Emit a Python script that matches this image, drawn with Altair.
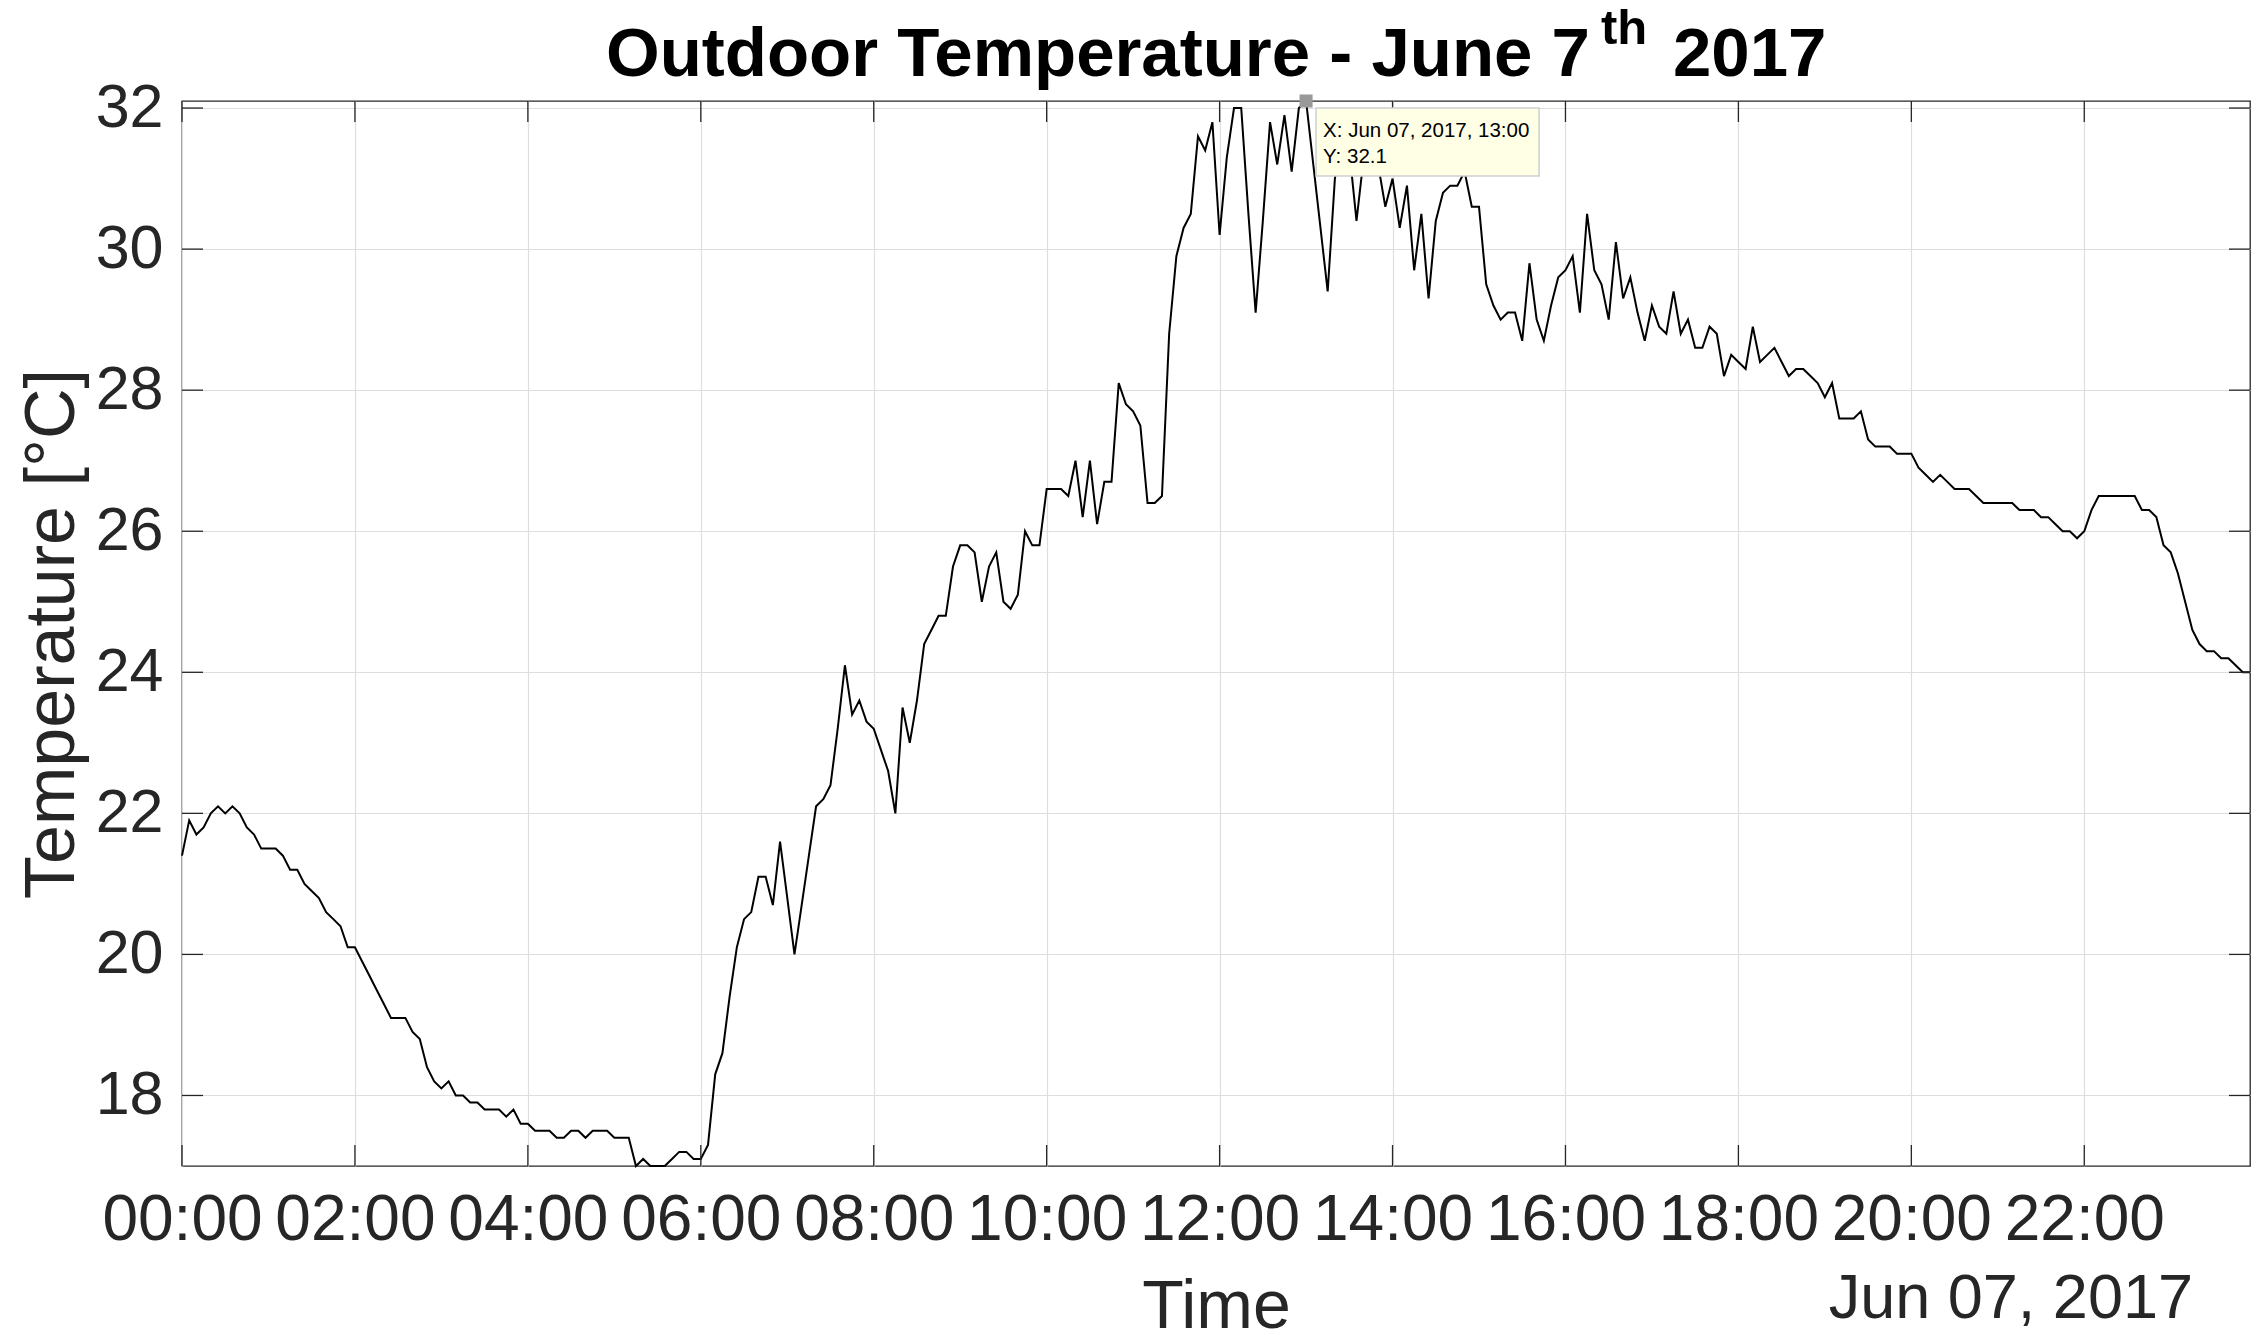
import altair as alt
import pandas as pd

# ---- data (5-minute readings, 00:00 .. 23:55) ----
temps = [
    21.4, 21.9, 21.7, 21.8, 22.0, 22.1, 22.0, 22.1, 22.0, 21.8,
    21.7, 21.5, 21.5, 21.5, 21.4, 21.2, 21.2, 21.0, 20.9, 20.8,
    20.6, 20.5, 20.4, 20.1, 20.1, 19.9, 19.7, 19.5, 19.3, 19.1,
    19.1, 19.1, 18.9, 18.8, 18.4, 18.2, 18.1, 18.2, 18.0, 18.0,
    17.9, 17.9, 17.8, 17.8, 17.8, 17.7, 17.8, 17.6, 17.6, 17.5,
    17.5, 17.5, 17.4, 17.4, 17.5, 17.5, 17.4, 17.5, 17.5, 17.5,
    17.4, 17.4, 17.4, 17.0, 17.1, 17.0, 17.0, 17.0, 17.1, 17.2,
    17.2, 17.1, 17.1, 17.3, 18.3, 18.6, 19.4, 20.1, 20.5, 20.6,
    21.1, 21.1, 20.7, 21.6, 20.8, 20.0, 20.7, 21.4, 22.1, 22.2,
    22.4, 23.2, 24.1, 23.4, 23.6, 23.3, 23.2, 22.9, 22.6, 22.0,
    23.5, 23.0, 23.6, 24.4, 24.6, 24.8, 24.8, 25.5, 25.8, 25.8,
    25.7, 25.0, 25.5, 25.7, 25.0, 24.9, 25.1, 26.0, 25.8, 25.8,
    26.6, 26.6, 26.6, 26.5, 27.0, 26.2, 27.0, 26.1, 26.7, 26.7,
    28.1, 27.8, 27.7, 27.5, 26.4, 26.4, 26.5, 28.8, 29.9, 30.3,
    30.5, 31.6, 31.4, 31.8, 30.2, 31.3, 32.0, 32.0, 30.5, 29.1,
    30.4, 31.8, 31.2, 31.9, 31.1, 32.0, 32.1, 31.2, 30.3, 29.4,
    31.0, 31.6, 31.4, 30.4, 31.3, 31.5, 31.2, 30.6, 31.0, 30.3,
    30.9, 29.7, 30.5, 29.3, 30.4, 30.8, 30.9, 30.9, 31.1, 30.6,
    30.6, 29.5, 29.2, 29.0, 29.1, 29.1, 28.7, 29.8, 29.0, 28.7,
    29.2, 29.6, 29.7, 29.9, 29.1, 30.5, 29.7, 29.5, 29.0, 30.1,
    29.3, 29.6, 29.1, 28.7, 29.2, 28.9, 28.8, 29.4, 28.8, 29.0,
    28.6, 28.6, 28.9, 28.8, 28.2, 28.5, 28.4, 28.3, 28.9, 28.4,
    28.5, 28.6, 28.4, 28.2, 28.3, 28.3, 28.2, 28.1, 27.9, 28.1,
    27.6, 27.6, 27.6, 27.7, 27.3, 27.2, 27.2, 27.2, 27.1, 27.1,
    27.1, 26.9, 26.8, 26.7, 26.8, 26.7, 26.6, 26.6, 26.6, 26.5,
    26.4, 26.4, 26.4, 26.4, 26.4, 26.3, 26.3, 26.3, 26.2, 26.2,
    26.1, 26.0, 26.0, 25.9, 26.0, 26.3, 26.5, 26.5, 26.5, 26.5,
    26.5, 26.5, 26.3, 26.3, 26.2, 25.8, 25.7, 25.4, 25.0, 24.6,
    24.4, 24.3, 24.3, 24.2, 24.2, 24.1, 24.0, 24.0,
]
times = pd.date_range("2017-06-07 00:00", periods=len(temps), freq="5min").strftime("%Y-%m-%dT%H:%M:%S")

x_tick_labels = ["00:00", "02:00", "04:00", "06:00", "08:00", "10:00",
                 "12:00", "14:00", "16:00", "18:00", "20:00", "22:00"]
y_tick_values = [18, 20, 22, 24, 26, 28, 30, 32]
y_domain = [17, 32.1]

title_main = "Outdoor Temperature - June 7"
title_sup = "th"
title_year = "2017"
x_title = "Time"
y_title = "Temperature [°C]"
date_label = "Jun 07, 2017"

tip_time = "2017-06-07T13:00:00"
tip_temp = 32.1
tip_line1 = "X: Jun 07, 2017, 13:00"
tip_line2 = "Y: 32.1"

# ---- layout ----
W, H = 2068, 1065
FONT = "Liberation Sans"
AX = "#262626"
TICK = 21

df = pd.DataFrame({"time": list(times), "temp": temps})
xt_df = pd.DataFrame({"time": ["2017-06-07T" + t + ":00" for t in x_tick_labels]})
yt_df = pd.DataFrame({"temp": y_tick_values})
tip_df = pd.DataFrame({"time": [tip_time], "temp": [tip_temp]})


def dt(h, m=0):
    return alt.DateTime(year=2017, month=6, date=7, hours=h, minutes=m)


x_enc = alt.X(
    "time:T",
    scale=alt.Scale(domain=[dt(0), dt(23, 55)]),
    axis=alt.Axis(
        values=[dt(int(t[:2])) for t in x_tick_labels],
        format="%H:%M",
        labelFlush=False,
        labelOverlap=False,
        labelPadding=22,
        labelFontSize=64,
        titleFontSize=68,
        titleX=W / 2,
        titleY=161,
        titleBaseline="alphabetic",
        titleAlign="center",
    ),
    title=x_title,
)
y_enc = alt.Y(
    "temp:Q",
    scale=alt.Scale(domain=y_domain, nice=False, zero=False),
    axis=alt.Axis(
        values=y_tick_values,
        labelFlush=False,
        labelOverlap=False,
        labelPadding=19,
        labelFontSize=61,
        titleFontSize=70,
        titleX=-109,
        titleY=H / 2,
        titleAngle=270,
        titleBaseline="alphabetic",
        titleAlign="center",
    ),
    title=y_title,
)

line = alt.Chart(df).mark_line(color="black", strokeWidth=2).encode(x=x_enc, y=y_enc)

tick_style = dict(color=AX, strokeWidth=1.3)
xt_bottom = alt.Chart(xt_df).mark_rule(**tick_style).encode(
    x=x_enc, y=alt.value(H), y2=alt.value(H - TICK))
xt_top = alt.Chart(xt_df).mark_rule(**tick_style).encode(
    x=x_enc, y=alt.value(0), y2=alt.value(TICK))
yt_left = alt.Chart(yt_df).mark_rule(**tick_style).encode(
    y=y_enc, x=alt.value(0), x2=alt.value(TICK))
yt_right = alt.Chart(yt_df).mark_rule(**tick_style).encode(
    y=y_enc, x=alt.value(W), x2=alt.value(W - TICK))

# data tip
tip_box = alt.Chart(tip_df).mark_rect(
    fill="#ffffe6", stroke="#cfcfcf", strokeWidth=1.5, xOffset=10, x2Offset=233
).encode(x=x_enc, x2=alt.X2("time"), y=alt.value(7), y2=alt.value(75))
tip_marker = alt.Chart(tip_df).mark_square(
    size=170, color="#999999", opacity=1, filled=True
).encode(x=x_enc, y=y_enc)
tip_t1 = alt.Chart(pd.DataFrame({"time": [tip_time], "s": [tip_line1]})).mark_text(
    align="left", baseline="alphabetic", dx=17, font=FONT, fontSize=20.5, color="black"
).encode(x=x_enc, y=alt.value(36), text="s:N")
tip_t2 = alt.Chart(pd.DataFrame({"time": [tip_time], "s": [tip_line2]})).mark_text(
    align="left", baseline="alphabetic", dx=17, font=FONT, fontSize=20.5, color="black"
).encode(x=x_enc, y=alt.value(62), text="s:N")

# title pieces
t_main = alt.Chart(pd.DataFrame({"s": [title_main]})).mark_text(
    align="right", baseline="alphabetic", font=FONT, fontSize=69, fontWeight="bold", color="black"
).encode(x=alt.value(1408), y=alt.value(-25), text="s:N")
t_sup = alt.Chart(pd.DataFrame({"s": [title_sup]})).mark_text(
    align="left", baseline="alphabetic", font=FONT, fontSize=49, fontWeight="bold", color="black"
).encode(x=alt.value(1419), y=alt.value(-57), text="s:N")
t_year = alt.Chart(pd.DataFrame({"s": [title_year]})).mark_text(
    align="left", baseline="alphabetic", font=FONT, fontSize=69, fontWeight="bold", color="black"
).encode(x=alt.value(1491), y=alt.value(-25), text="s:N")

d_label = alt.Chart(pd.DataFrame({"s": [date_label]})).mark_text(
    align="right", baseline="alphabetic", font=FONT, fontSize=63, color=AX
).encode(x=alt.value(2011), y=alt.value(1217), text="s:N")

chart = alt.layer(
    line, xt_bottom, xt_top, yt_left, yt_right,
    tip_box, tip_marker, tip_t1, tip_t2,
    t_main, t_sup, t_year, d_label,
).properties(
    width=W, height=H,
    padding={"left": 182, "top": 101, "right": 12, "bottom": 175},
    autosize=alt.AutoSizeParams(type="none"),
    background="white",
).configure_axis(
    grid=True,
    gridColor="#dedede",
    gridWidth=1.2,
    domain=False,
    ticks=False,
    tickSize=0,
    labelFont=FONT,
    labelColor=AX,
    titleFont=FONT,
    titleColor=AX,
    titleFontWeight="normal",
).configure_view(
    stroke=AX, strokeWidth=1.3
)

chart.save("out.html", embed_options={"renderer": "svg", "actions": False})
